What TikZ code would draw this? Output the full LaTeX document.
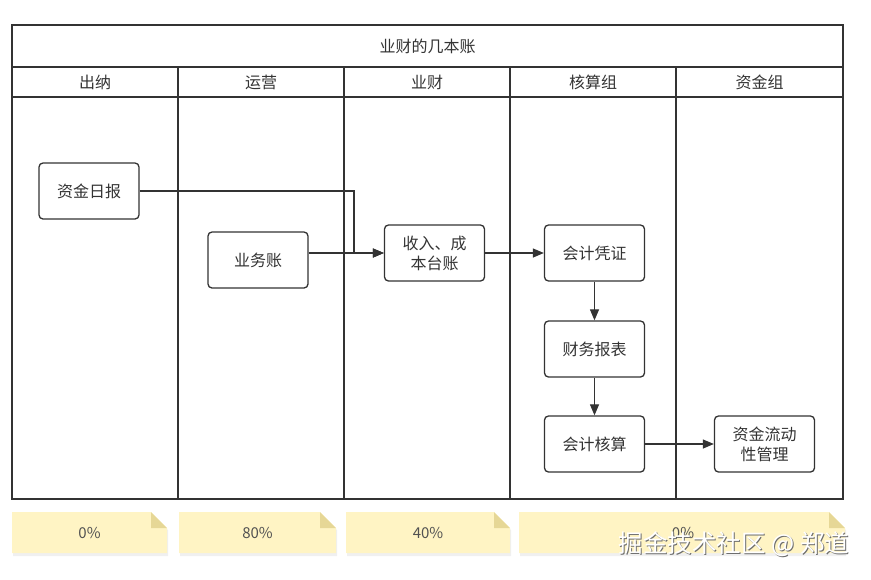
\documentclass[tikz,border=0pt]{standalone}
\usepackage{fontspec}
\setmainfont{Noto Sans CJK SC}
\usetikzlibrary{arrows.meta}
\definecolor{ln}{HTML}{333333}
\definecolor{notey}{HTML}{FFF4C4}
\definecolor{foldc}{HTML}{E6D796}
\definecolor{wmshadow}{HTML}{6E6E6E}
\begin{document}
\begin{tikzpicture}[x=1pt,y=-1pt,
  frame/.style={draw=ln, line width=1.8pt},
  box/.style={draw=ln, line width=1.3pt, rounded corners=4pt, minimum width=100pt, minimum height=56pt, align=center, font=\fontsize{16}{20}\selectfont, text=ln, inner sep=0pt},
  flow/.style={draw=ln, line width=1.2pt, -{Triangle[length=11pt,width=9pt]}},
  lbl/.style={font=\fontsize{16}{18}\selectfont, text=ln, inner sep=0pt},
  notetxt/.style={font=\fontsize{15}{18}\selectfont, text=ln!85, inner sep=0pt},
  wm/.style={font=\fontsize{24.5}{27}\selectfont, inner sep=0pt},
]
\useasboundingbox (0,0) rectangle (871,579);
% frame
\draw[frame] (12,25) rectangle (843,499);
\draw[frame] (12,67) -- (843,67);
\draw[frame] (12,97) -- (843,97);
\foreach \x in {178,344,510,676} \draw[frame] (\x,67) -- (\x,499);
% titles
\node[lbl] (title) at (427.5,46) {业财的几本账};
\node[lbl] (h1) at (95,82) {出纳};
\node[lbl] (h2) at (261,82) {运营};
\node[lbl] (h3) at (427,82) {业财};
\node[lbl] (h4) at (593,82) {核算组};
\node[lbl] (h5) at (759.5,82) {资金组};
% boxes
\node[box] (zjrb) at (89,191) {资金日报};
\node[box] (ywz) at (258,260) {业务账};
\node[box] (szr) at (434.5,253) {收入、成\\本台账};
\node[box] (kjpz) at (594.5,253) {会计凭证};
\node[box] (cwbb) at (594.5,349) {财务报表};
\node[box] (kjhs) at (594.5,444) {会计核算};
\node[box] (zjld) at (764.5,444) {资金流动\\性管理};
% connectors
\coordinate (bendx) at (354,0);
\draw[flow] (zjrb.east) -- (zjrb.east -| bendx) -- (bendx |- szr.west) -- (szr.west);
\draw[flow] (ywz.east |- szr.west) -- (szr.west);
\draw[flow] (szr.east) -- (kjpz.west);
\draw[flow] (kjpz.south) -- (cwbb.north);
\draw[flow] (cwbb.south) -- (kjhs.north);
\draw[flow] (kjhs.east) -- (zjld.west);
% notes
\foreach \a/\b in {12/167,179/336,346/510,519/845}{
  \fill[black!6] (\a+1,514) -- (\b-15,514) -- (\b+1,530) -- (\b+1,556) -- (\a+1,556) -- cycle;
  \fill[notey] (\a,512) -- (\b-16,512) -- (\b,528) -- (\b,553) -- (\a,553) -- cycle;
  \fill[foldc] (\b-16,512) -- (\b-16,528) -- (\b,528) -- cycle;
}
\node[notetxt] (n1) at (89.5,533) {0\%};
\node[notetxt] (n2) at (257.5,533) {80\%};
\node[notetxt] (n3) at (428,533) {40\%};
\node[notetxt] (n4) at (683,533) {0\%};
% watermark
\node[wm, text=wmshadow] (wms) at (735,545) {掘金技术社区 @ 郑道};
\node[wm, text=white] (wmt) at (734,544) {掘金技术社区 @ 郑道};
\end{tikzpicture}
\end{document}
